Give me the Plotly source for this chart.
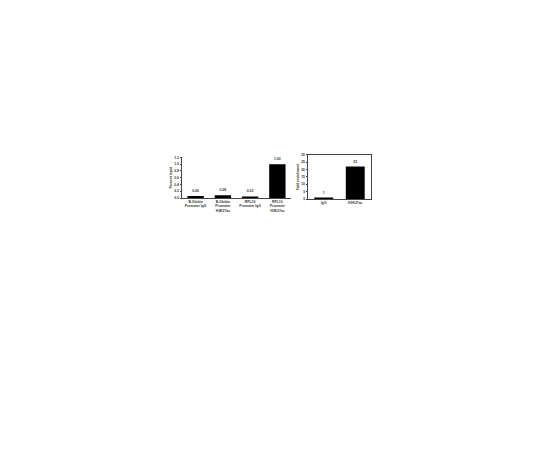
import plotly.graph_objects as go

# left panel: percent input
left_cats = ["B-Globin<br>Promoter IgG", "B-Globin<br>Promoter<br>H3K27ac",
             "RPL10<br>Promoter IgG", "RPL10<br>Promoter<br>H3K27ac"]
left_vals = [0.06, 0.08, 0.03, 1.00]
left_text = ["0.06", "0.08", "0.03", "1.00"]
left_ticks = [0, 0.2, 0.4, 0.6, 0.8, 1.0, 1.2]

# right panel: fold enrichment
right_cats = ["IgG", "H3K27ac"]
right_vals = [1, 22]
right_text = ["1", "22"]
right_ticks = [0, 5, 10, 15, 20, 25, 30]

W, H = 540, 450
OFF = 8  # page body margin shifts the figure
font = dict(family="Arial", size=3.4, color="#333", weight="bold")


def px_x(a, b):
    return [(a - OFF) / W, (b - OFF) / W]


def px_y(top, bottom):
    return [1 - (bottom - OFF) / H, 1 - (top - OFF) / H]


fig = go.Figure()
fig.add_trace(go.Bar(x=left_cats, y=left_vals, text=left_text, textposition="outside",
                     marker=dict(color="black", line=dict(width=0)), width=0.6,
                     textfont=font, cliponaxis=False, xaxis="x", yaxis="y"))
fig.add_trace(go.Bar(x=right_cats, y=right_vals, text=right_text, textposition="outside",
                     marker=dict(color="black", line=dict(width=0)), width=0.6,
                     textfont=font, cliponaxis=False, xaxis="x2", yaxis="y2"))

ax = dict(showgrid=False, zeroline=False, showline=True, linecolor="#444", linewidth=0.6,
          ticks="outside", ticklen=1.5, tickwidth=0.5, tickcolor="#444", tickfont=font)

fig.update_layout(
    width=W, height=H, showlegend=False, bargap=0.4,
    margin=dict(l=0, r=0, t=0, b=0),
    paper_bgcolor="white", plot_bgcolor="white",
    font=font,
    xaxis=dict(ax, domain=px_x(182, 291), anchor="y", ticks=""),
    yaxis=dict(ax, domain=px_y(156.7, 197.7), anchor="x", range=[0, 1.2],
               tickvals=left_ticks, ticktext=[f"{t:.1f}" for t in left_ticks],
               title=dict(text="Percent input", font=font, standoff=2)),
    xaxis2=dict(ax, domain=px_x(308, 371), anchor="y2", ticks="", mirror=True),
    yaxis2=dict(ax, domain=px_y(154, 198.7), anchor="x2", range=[0, 30],
                tickvals=right_ticks, mirror=True,
                title=dict(text="Fold enrichment", font=font, standoff=2)),
)

fig.write_html("out.html")
